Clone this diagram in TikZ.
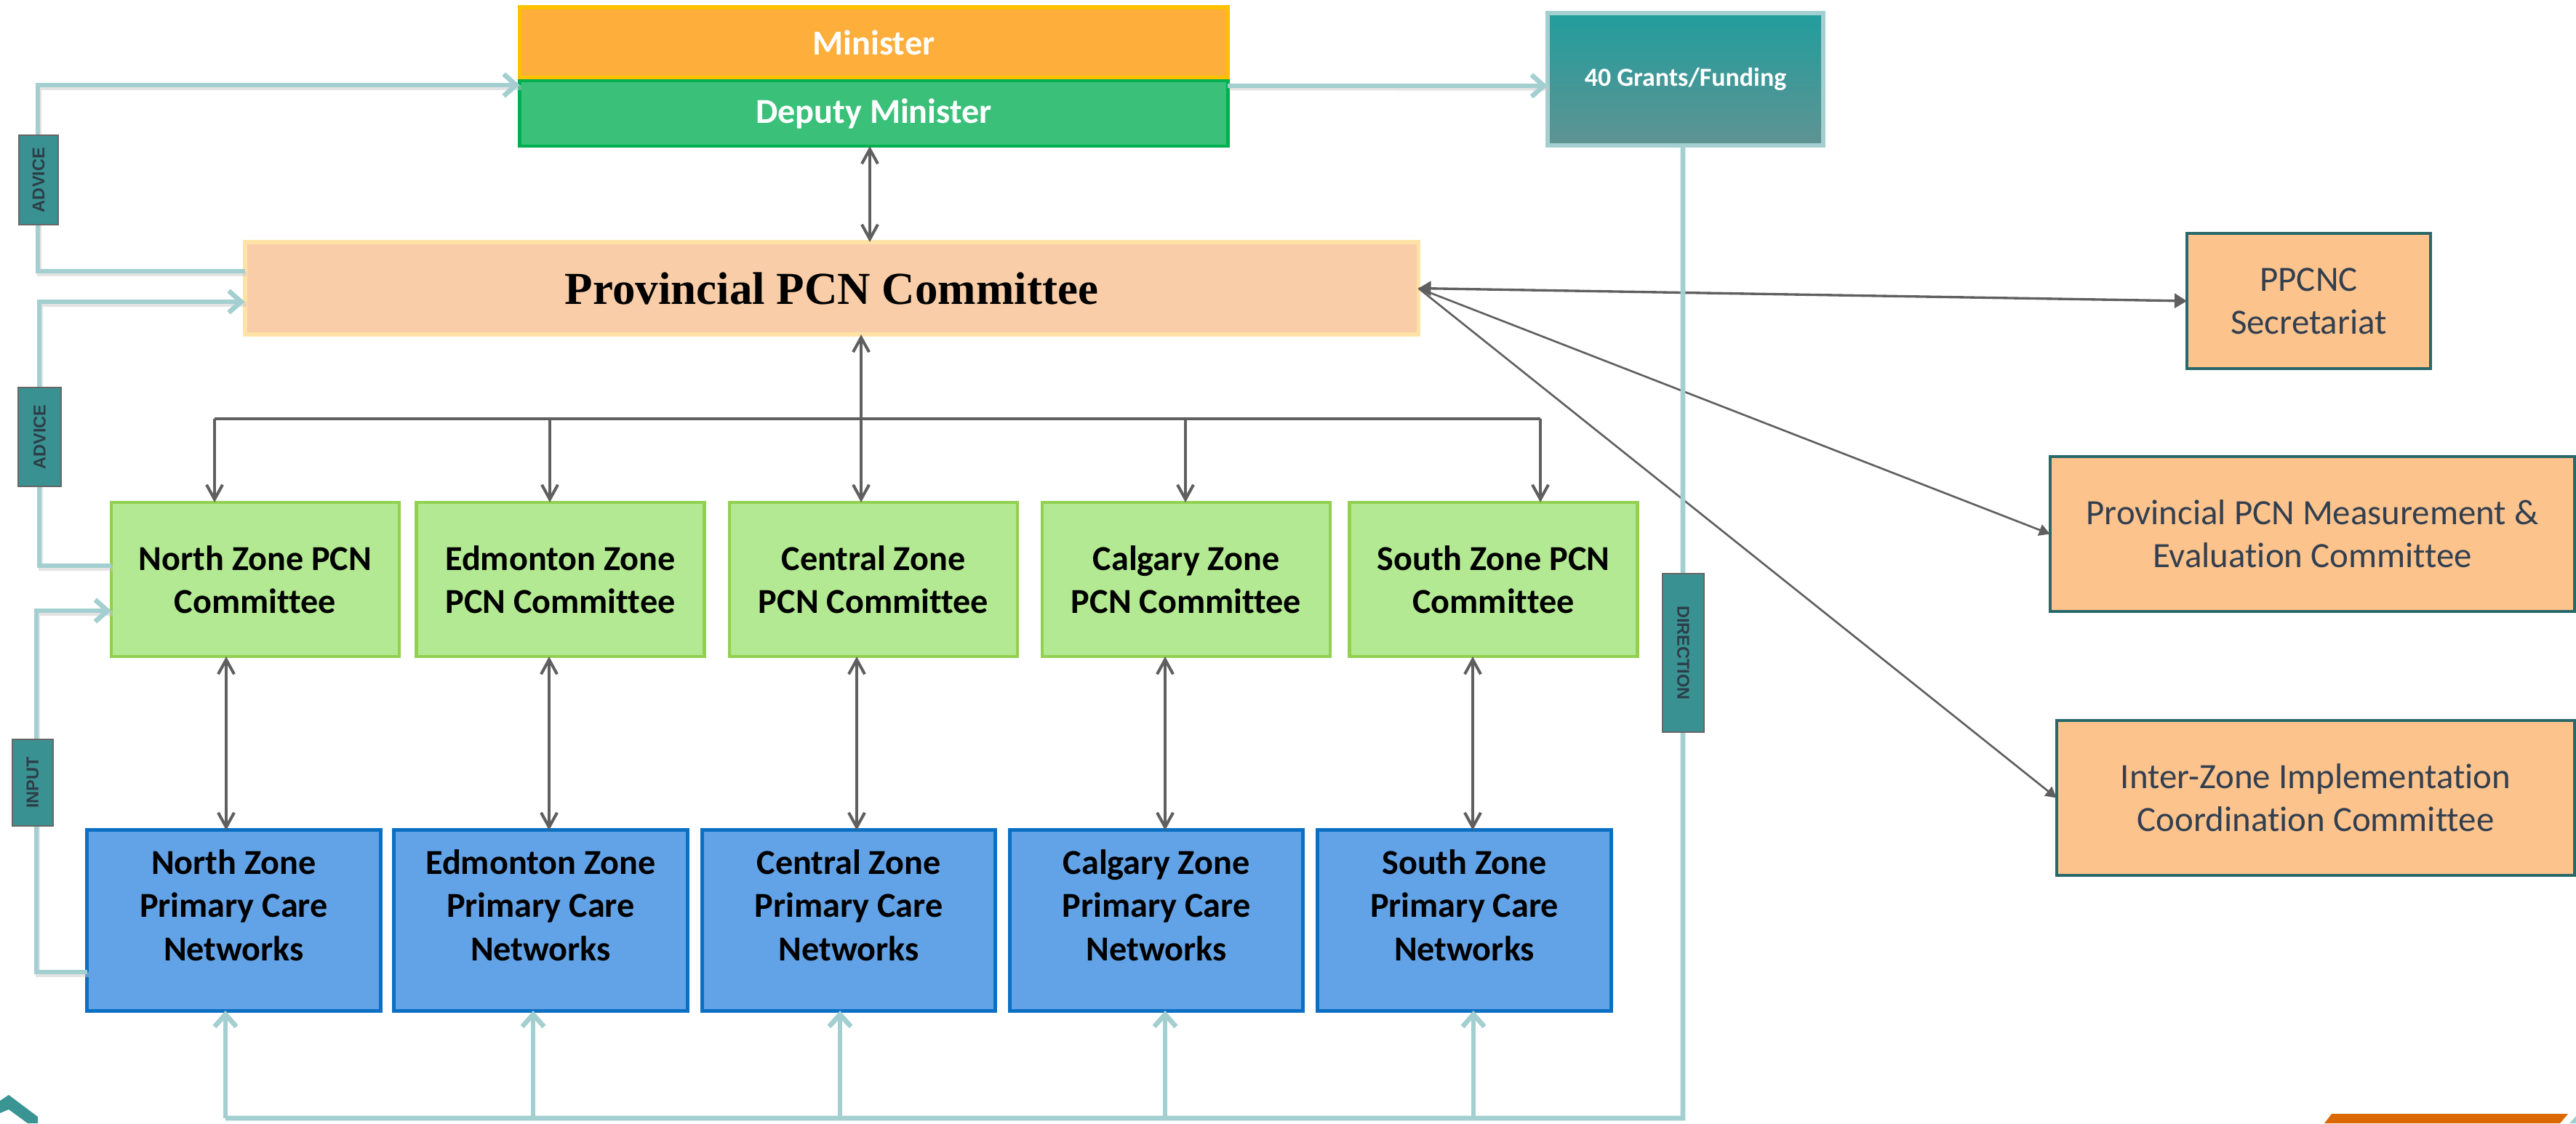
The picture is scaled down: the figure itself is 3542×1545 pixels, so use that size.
\documentclass[tikz,border=0pt]{standalone}
\usepackage{fontspec}
\newfontfamily\calibri[Ligatures=NoCommon]{Carlito}
\newfontfamily\timesf{Liberation Serif}
\newfontfamily\arialf{Liberation Sans}
\usetikzlibrary{arrows.meta}
\definecolor{minfill}{HTML}{FDAE3B}
\definecolor{minline}{HTML}{FFC000}
\definecolor{depfill}{HTML}{3BC07A}
\definecolor{depline}{HTML}{00B050}
\definecolor{provfill}{HTML}{F9CDA8}
\definecolor{provline}{HTML}{FFE3A6}
\definecolor{grfill}{HTML}{B3E992}
\definecolor{grline}{HTML}{92D050}
\definecolor{blfill}{HTML}{62A2E6}
\definecolor{blline}{HTML}{0B6FC4}
\definecolor{orfill}{HTML}{FDC38D}
\definecolor{orline}{HTML}{276868}
\definecolor{ortext}{HTML}{323F4F}
\definecolor{gtop}{HTML}{229D9D}
\definecolor{gbot}{HTML}{5F9393}
\definecolor{lteal}{HTML}{A3CFD0}
\definecolor{lblfill}{HTML}{3A9191}
\definecolor{lblline}{HTML}{666666}
\definecolor{lbltext}{HTML}{2C3E48}
\definecolor{conn}{HTML}{5F5F5F}
\definecolor{decteal}{HTML}{3A9494}
\definecolor{decorange}{HTML}{DB6800}
\begin{document}
\begin{tikzpicture}[x=0.01cm,y=-0.01cm,
  every node/.style={outer sep=0pt, inner sep=1pt, align=center},
  calbf/.style={font=\calibri\bfseries\fontsize{13.7}{16.9}\selectfont},
  calrg/.style={font=\calibri\fontsize{13.9}{16.8}\selectfont, text=ortext},
  minbox/.style={fill=minfill, draw=minline, line width=1.55pt, calbf, text=white},
  depbox/.style={fill=depfill, draw=depline, line width=1.4pt, calbf, text=white},
  provbox/.style={fill=provfill, draw=provline, line width=1.7pt},
  grbox/.style={fill=grfill, draw=grline, line width=1.3pt, calbf, minimum width=3.96cm, minimum height=2.12cm},
  blbox/.style={fill=blfill, draw=blline, line width=1.4pt, minimum width=4.03cm, minimum height=2.48cm},
  orbox/.style={fill=orfill, draw=orline, line width=1.15pt, calrg},
  grantbox/.style={top color=gtop, bottom color=gbot, draw=lteal, line width=1.8pt,
    font=\calibri\bfseries\fontsize{10.2}{12}\selectfont, text=white},
  lblbox/.style={fill=lblfill, draw=lblline, line width=0.6pt, text=lbltext,
    font=\arialf\bfseries\fontsize{6.7}{8}\selectfont},
  tealln/.style={draw=lteal, line width=1.9pt},
  tealshadow/.style={draw=black!22, line width=1.9pt, opacity=0.5, transform canvas={xshift=0.6pt,yshift=-0.9pt}},
  tealarr/.style={tealln, -{Straight Barb[length=0.17cm,width=0.3cm,line width=1.9pt]}},
  grayln/.style={draw=conn, line width=1.15pt},
  grayarr/.style={grayln, -{Straight Barb[length=0.2cm,width=0.22cm,line width=1.15pt]}},
  grayarrb/.style={grayln, {Straight Barb[length=0.2cm,width=0.22cm,line width=1.15pt]}-{Straight Barb[length=0.2cm,width=0.22cm,line width=1.15pt]}},
  thinln/.style={draw=conn, line width=0.75pt},
]
\useasboundingbox (0,0) rectangle (3542,1545);

% ---------- top boxes ----------
\node[minbox, minimum width=9.73cm, minimum height=0.97cm] (minister) at (1201.5,58.5) {Minister};
\node[depbox, minimum width=9.73cm, minimum height=0.90cm] (deputy) at (1201.5,156) {Deputy Minister};
\node[grantbox, minimum width=3.79cm, minimum height=1.82cm] (grants) at (2317.5,109) {40 Grants/Funding};
\node[provbox, minimum width=16.13cm, minimum height=1.27cm,
      font=\timesf\bfseries\fontsize{17.9}{20}\selectfont] (prov) at (1143.5,396.5) {Provincial PCN Committee};

% ---------- right boxes ----------
\node[orbox, minimum width=3.35cm, minimum height=1.86cm] (ppcnc) at (3174.5,414) {PPCNC\\Secretariat};
\node[orbox, minimum width=7.21cm, minimum height=2.13cm] (meas) at (3179.5,734.5) {Provincial PCN Measurement \&\\Evaluation Committee};
\node[orbox, minimum width=7.12cm, minimum height=2.13cm] (inter) at (3184,1097.5) {Inter-Zone Implementation\\Coordination Committee};

% ---------- zone committees ----------
\node[grbox] (nc1) at (351,797) {North Zone PCN\\Committee};
\node[grbox] (nc2) at (770.5,797) {Edmonton Zone\\PCN Committee};
\node[grbox] (nc3) at (1201,797) {Central Zone\\PCN Committee};
\node[grbox] (nc4) at (1631,797) {Calgary Zone\\PCN Committee};
\node[grbox] (nc5) at (2053.5,797) {South Zone PCN\\Committee};

% ---------- primary care networks ----------
\node[blbox] (pn1) at (321.5,1266) {};
\node[blbox] (pn2) at (743.5,1266) {};
\node[blbox] (pn3) at (1167,1266) {};
\node[blbox] (pn4) at (1590,1266) {};
\node[blbox] (pn5) at (2013.5,1266) {};
\node[calbf] (pt1) at ([yshift=0.21cm]pn1.center) {North Zone\\Primary Care\\Networks};
\node[calbf] (pt2) at ([yshift=0.21cm]pn2.center) {Edmonton Zone\\Primary Care\\Networks};
\node[calbf] (pt3) at ([yshift=0.21cm]pn3.center) {Central Zone\\Primary Care\\Networks};
\node[calbf] (pt4) at ([yshift=0.21cm]pn4.center) {Calgary Zone\\Primary Care\\Networks};
\node[calbf] (pt5) at ([yshift=0.21cm]pn5.center) {South Zone\\Primary Care\\Networks};

% ---------- gray connectors ----------
\coordinate (dp) at (1196,270);
\draw[grayarrb] (dp |- deputy.south) -- (dp |- prov.north);

\coordinate (t1) at (295,576);
\coordinate (t2) at (756,576);
\coordinate (t3) at (1184,576);
\coordinate (t4) at (1630,576);
\coordinate (t5) at (2118,576);
\draw[grayln] (t1) -- (t5);
\draw[grayarr] (t1) -- (t1 |- nc1.north);
\draw[grayarr] (t2) -- (t2 |- nc2.north);
\draw[grayarrb] (t3 |- prov.south) -- (t3 |- nc3.north);
\draw[grayarr] (t4) -- (t4 |- nc4.north);
\draw[grayarr] (t5) -- (t5 |- nc5.north);

\coordinate (d1) at (311,1000);
\coordinate (d2) at (755,1000);
\coordinate (d3) at (1178,1000);
\coordinate (d4) at (1602,1000);
\coordinate (d5) at (2025,1000);
\draw[grayarrb] (d1 |- nc1.south) -- (d1 |- pn1.north);
\draw[grayarrb] (d2 |- nc2.south) -- (d2 |- pn2.north);
\draw[grayarrb] (d3 |- nc3.south) -- (d3 |- pn3.north);
\draw[grayarrb] (d4 |- nc4.south) -- (d4 |- pn4.north);
\draw[grayarrb] (d5 |- nc5.south) -- (d5 |- pn5.north);

% diagonal connectors to the right-hand committees
\draw[thinln, line width=0.95pt, {Triangle[length=0.17cm,width=0.2cm]}-{Triangle[length=0.17cm,width=0.2cm]}] (prov.east) -- (ppcnc.west);
\draw[thinln, -{Triangle[length=0.15cm,width=0.16cm]}] (prov.east) -- (meas.west);
\draw[thinln, -{Triangle[length=0.15cm,width=0.16cm]}] (prov.east) -- (inter.west);

% ---------- light teal connectors ----------
\coordinate (advA) at (52,117);
\coordinate (advB) at (54,415);
\coordinate (inpA) at (50,840);
\coordinate (b1) at (310,1538);
\coordinate (b2) at (733,1538);
\coordinate (b3) at (1155,1538);
\coordinate (b4) at (1602,1538);
\coordinate (b5) at (2026,1538);
\coordinate (bR) at (2314,1538);

% soft shadows
\draw[tealshadow] ([yshift=0.235cm]prov.west) -| (advA) -- (deputy.west |- advA);
\draw[tealshadow] ([yshift=0.19cm]nc1.west) -| (advB) -- (prov.west |- advB);
\draw[tealshadow] ([yshift=-0.71cm]pn1.west) -| (inpA) -- (nc1.west |- inpA);
\draw[tealshadow] ([yshift=0.38cm]deputy.east) -- (grants.west |- 0,118);

\draw[tealarr] ([yshift=0.235cm]prov.west) -| (advA) -- (deputy.west |- advA);
\draw[tealarr] ([yshift=0.19cm]nc1.west) -| (advB) -- (prov.west |- advB);
\draw[tealarr] ([yshift=-0.71cm]pn1.west) -| (inpA) -- (nc1.west |- inpA);
\draw[tealarr] ([yshift=0.38cm]deputy.east) coordinate (dpE) -- (grants.west |- dpE);

\draw[tealln] ([xshift=-0.035cm]grants.south) -- (bR) -- (b1);
\draw[tealarr] (b1) -- (b1 |- pn1.south);
\draw[tealarr] (b2) -- (b2 |- pn2.south);
\draw[tealarr] (b3) -- (b3 |- pn3.south);
\draw[tealarr] (b4) -- (b4 |- pn4.south);
\draw[tealarr] (b5) -- (b5 |- pn5.south);

% ---------- labels on the teal connectors ----------
\node[lblbox, rotate=90, minimum width=1.23cm, minimum height=0.54cm] (lab1) at (53,247.5) {ADVICE};
\node[lblbox, rotate=90, minimum width=1.36cm, minimum height=0.59cm] (lab2) at (54.5,601) {ADVICE};
\node[lblbox, rotate=90, minimum width=1.19cm, minimum height=0.56cm] (lab3) at (45,1076.5) {INPUT};
\node[lblbox, rotate=-90, minimum width=2.18cm, minimum height=0.57cm] (lab4) at (2314.5,898) {DIRECTION};

% ---------- slide decorations ----------
\fill[decteal] (0,1514) -- (12,1506) -- (52,1536) -- (52,1545) -- (38,1545) -- (12,1526) -- (0,1531) -- cycle;
\fill[decorange] (3196,1545) -- (3206,1532) -- (3531,1532) -- (3520,1545) -- cycle;
\fill[lteal] (3533,1545) -- (3542,1535) -- (3542,1545) -- cycle;
\end{tikzpicture}
\end{document}
